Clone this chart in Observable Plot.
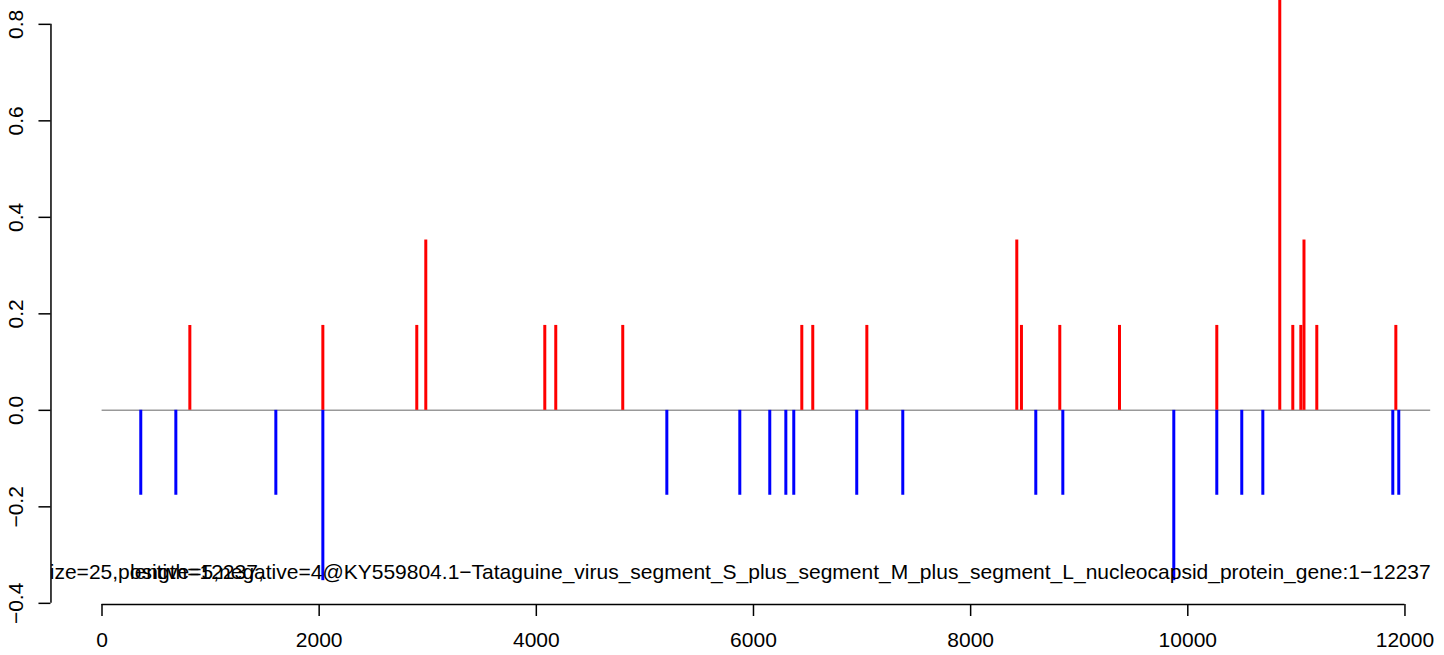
<!DOCTYPE html>
<html><head><meta charset="utf-8">
<script src="https://cdn.jsdelivr.net/npm/d3@7"></script>
<script src="https://cdn.jsdelivr.net/npm/@observablehq/plot@0.6"></script>
<style>html,body{margin:0;padding:0;background:#fff}svg{display:block}</style>
</head><body><div id="chart"></div>
<script>
// positive-strand positions and heights (red)
const positivePositions = [809, 2034, 2899, 2982, 4078, 4179, 4796, 6445, 6546, 7044, 8425, 8468, 8821, 9371, 10267, 10847, 10967, 11041, 11070, 11188, 11916];
const positiveValues    = [0.176, 0.176, 0.176, 0.353, 0.176, 0.176, 0.176, 0.176, 0.176, 0.176, 0.353, 0.176, 0.176, 0.176, 0.176, 0.882, 0.176, 0.176, 0.353, 0.176, 0.176];
// negative-strand positions and heights (blue)
const negativePositions = [357, 680, 1601, 2034, 5202, 5874, 6150, 6298, 6371, 6951, 7375, 8600, 8849, 9871, 10267, 10497, 10691, 11888, 11943];
const negativeValues    = [-0.176, -0.176, -0.176, -0.353, -0.176, -0.176, -0.176, -0.176, -0.176, -0.176, -0.176, -0.176, -0.176, -0.353, -0.176, -0.176, -0.176, -0.176, -0.176];
// axis ticks
const xTicks = [0, 2000, 4000, 6000, 8000, 10000, 12000];
const yTicks = [-0.4, -0.2, 0.0, 0.2, 0.4, 0.6, 0.8];
// genome extent and plotted x limits
const genomeStart = 1;
const genomeLength = 12237;
const xLimits = [-470, 12726];
// labels
const labelMain = "size=25,positive=5,negative=4@KY559804.1\u2212Tataguine_virus_segment_S_plus_segment_M_plus_segment_L_nucleocapsid_protein_gene:1\u221212237";
const labelOverlay = "length=12237,";

const positive = positivePositions.map((x, i) => ({x, v: positiveValues[i]}));
const negative = negativePositions.map((x, i) => ({x, v: negativeValues[i]}));

const fs = 21;
const font = "'Liberation Sans', Arial, Helvetica, sans-serif";
const fmtY = d => (d < 0 ? "\u2212" : "") + Math.abs(d).toFixed(1);

const [xMin, xMax] = xLimits;
// R-style 4% extended y range
const yLo = d3.min(negativeValues), yHi = d3.max(positiveValues);
const yPad = (yHi - yLo) * 0.04;
const yMin = yLo - yPad, yMax = yHi + yPad;

const pxPerX = 0.10858, x0px = 101.5;
const pxPerY = 482.5, yBottomPx = 604;
const leftPx = x0px + xMin * pxPerX;

const chart = Plot.plot({
  width: 1444,
  height: 655,
  marginLeft: leftPx,
  marginRight: 0,
  marginTop: 0,
  marginBottom: 655 - yBottomPx,
  x: {domain: [xMin, xMax], range: [leftPx, x0px + xMax * pxPerX]},
  y: {domain: [yMin, yMax], range: [yBottomPx, yBottomPx - (yMax - yMin) * pxPerY]},
  style: {fontFamily: font, background: "#fff", color: "#000"},
  marks: [
    Plot.ruleY([0], {x1: genomeStart, x2: genomeLength, stroke: "#999999", strokeWidth: 1.5, clip: true}),
    Plot.ruleX(positive, {x: "x", y1: 0, y2: "v", stroke: "#ff0000", strokeWidth: 3, clip: true}),
    Plot.ruleX(negative, {x: "x", y1: 0, y2: "v", stroke: "#0000ff", strokeWidth: 3, clip: true}),
    Plot.text([labelMain], {x: genomeLength, y: -0.336, text: d => d, textAnchor: "end", fontSize: fs, fill: "#000", clip: true}),
    Plot.text([labelOverlay], {x: genomeLength, y: -0.336, text: d => d, textAnchor: "end", dx: -55.57 * fs, fontSize: fs, fill: "#000", clip: true}),
    // y axis
    Plot.ruleX([xMin], {y1: yTicks[0], y2: yTicks[yTicks.length - 1], stroke: "#000", strokeWidth: 1.5}),
    Plot.axisY(yTicks, {anchor: "left", tickSize: 12, tickFormat: () => "", label: null, strokeWidth: 1.5}),
    Plot.text(yTicks, {x: xMin, y: d => d, text: fmtY, rotate: -90, dx: -35, fontSize: fs, fill: "#000"}),
    // x axis
    Plot.ruleY([yMin], {x1: xTicks[0], x2: xTicks[xTicks.length - 1], stroke: "#000", strokeWidth: 1.5}),
    Plot.axisX(xTicks, {anchor: "bottom", tickSize: 12, tickFormat: () => "", label: null, strokeWidth: 1.5}),
    Plot.text(xTicks, {x: d => d, y: yMin, text: d => String(d), dy: 36, fontSize: fs, fill: "#000"})
  ]
});
document.getElementById("chart").appendChild(chart);
</script>
</body></html>
